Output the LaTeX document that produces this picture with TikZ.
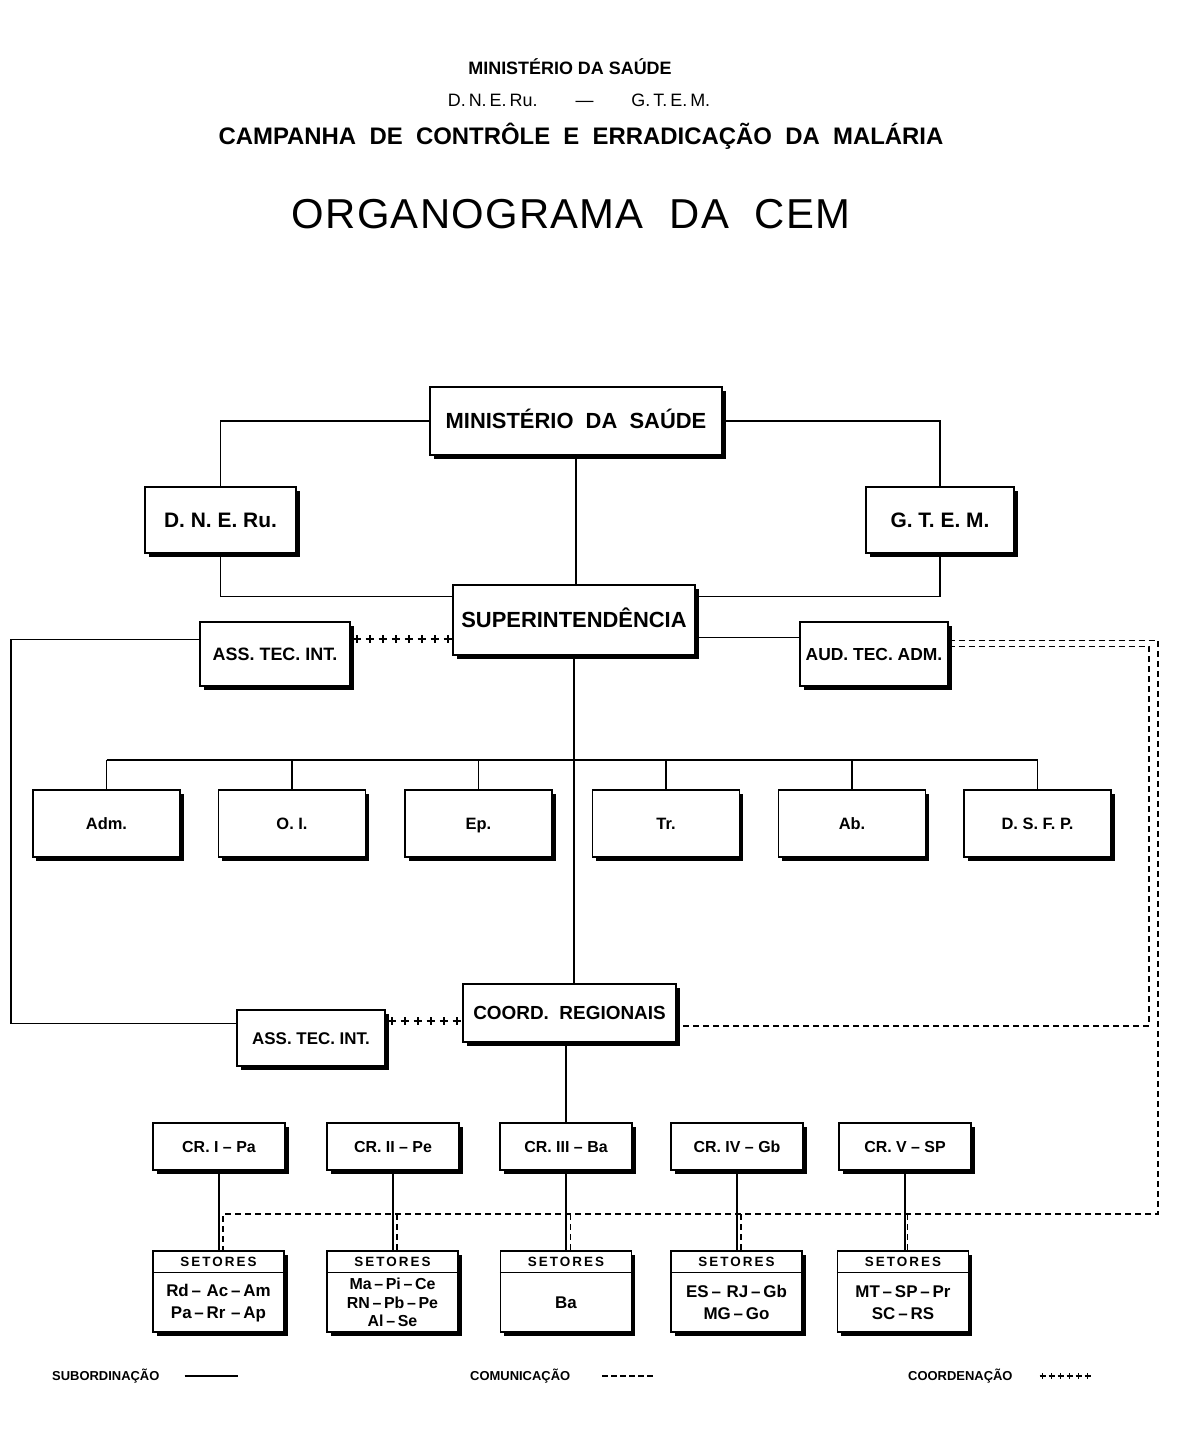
\documentclass[tikz,border=0pt]{standalone}
\usepackage{fontspec}
\setmainfont{Liberation Sans}
\newfontfamily\titlefont[LetterSpace=3]{Liberation Sans}
\newfontfamily\setfont[LetterSpace=15]{Liberation Sans}
\usetikzlibrary{shadows,decorations.markings,calc}
\begin{document}
\begin{tikzpicture}[x=1bp,y=-1bp,
  orgbox/.style={draw, line width=1.4bp, fill=white, inner sep=0pt,
    drop shadow={shadow xshift=3.5bp, shadow yshift=-4bp, fill=black, opacity=1}},
  fsz/.style={font=\bfseries\fontsize{#1}{#1}\selectfont, text height=0.716*#1bp, text depth=0pt},
  sub/.style={line width=1.4bp},
  comline/.style={line width=1.3bp, dash pattern=on 6bp off 4bp},
  plusline/.style={decoration={markings,
      mark=between positions 6bp and -2bp step 13bp with
      {\draw[line width=1.8bp] (-4,0)--(4,0) (0,-4)--(0,4);}}, decorate},
  plussmall/.style={decoration={markings,
      mark=between positions 3bp and -1bp step 9bp with
      {\draw[line width=1.5bp] (-3,0)--(3,0) (0,-3)--(0,3);}}, decorate},
  hdr/.style={anchor=base, inner sep=0pt},
  lgd/.style={anchor=west, inner sep=0pt, fsz=13},
  dept/.style={orgbox, minimum width=147bp, minimum height=67bp, fsz=16.5},
  crbox/.style={orgbox, minimum width=132bp, minimum height=47bp, fsz=16},
  setbox/.style={orgbox, minimum width=131bp, minimum height=81bp},
  sethead/.style={inner sep=0pt, font=\setfont\bfseries\fontsize{13.5}{15}\selectfont, text height=0.716*13.5bp, text depth=0pt},
  setbody/.style={inner sep=0pt, align=center, font=\bfseries\fontsize{17}{22}\selectfont},
]
\useasboundingbox (0,0) rectangle (1179,1445);
\fill[white] (0,0) rectangle (1179,1445);

% header
\node[hdr, font=\bfseries\fontsize{18}{20}\selectfont] (h1) at (570,75) {MINISTÉRIO DA SAÚDE};
\node[hdr, font=\fontsize{18}{20}\selectfont] (h2) at (579,107) {D.\,N.\,E.\,Ru.\hspace{38bp}—\hspace{38bp}G.\,T.\,E.\,M.};
\node[hdr, font=\bfseries\fontsize{24}{28}\selectfont] (h3) at (581,145) {CAMPANHA\ \ DE\ \ CONTRÔLE\ \ E\ \ ERRADICAÇÃO\ \ DA\ \ MALÁRIA};
\node[hdr, font=\titlefont\fontsize{42}{46}\selectfont] (h4) at (571,228) {ORGANOGRAMA\ \ DA\ \ CEM};

% boxes
\node[orgbox, minimum width=292bp, minimum height=68bp, fsz=22] (min) at (576,421) {MINISTÉRIO\ \ DA\ \ SAÚDE};
\node[orgbox, minimum width=151bp, minimum height=66bp, fsz=21] (dne) at (220.5,520) {D. N. E. Ru.};
\node[orgbox, minimum width=148bp, minimum height=66bp, fsz=21] (gtem) at (940,520) {G. T. E. M.};
\node[orgbox, minimum width=242bp, minimum height=70bp, fsz=22] (sup) at (574,620) {SUPERINTENDÊNCIA};
\node[orgbox, minimum width=150bp, minimum height=64bp, fsz=18] (ati) at (275,654) {ASS. TEC. INT.};
\node[orgbox, minimum width=148bp, minimum height=64bp, fsz=17.5] (aud) at (874,654) {AUD. TEC. ADM.};

\node[dept] (adm) at (106.5,823.5) {Adm.};
\node[dept] (oi) at (292,823.5) {O. I.};
\node[dept] (ep) at (478.5,823.5) {Ep.};
\node[dept] (tr) at (666,823.5) {Tr.};
\node[dept] (ab) at (852,823.5) {Ab.};
\node[dept] (dsfp) at (1037.5,823.5) {D. S. F. P.};

\node[orgbox, minimum width=213bp, minimum height=58bp, fsz=19] (coord) at (569.5,1013) {COORD.\ \ REGIONAIS};
\node[orgbox, minimum width=148bp, minimum height=56bp, fsz=17] (ati2) at (311,1038) {ASS. TEC. INT.};

\node[crbox] (cr1) at (219,1146.5) {CR. I – Pa};
\node[crbox] (cr2) at (393,1146.5) {CR. II – Pe};
\node[crbox] (cr3) at (566,1146.5) {CR. III – Ba};
\node[crbox] (cr4) at (737,1146.5) {CR. IV – Gb};
\node[crbox] (cr5) at (905,1146.5) {CR. V – SP};

\foreach \n/\x in {s1/218.5, s2/392.5, s3/566, s4/736.5, s5/903}{
  \node[setbox] (\n) at (\x,1291.5) {};
  \draw[line width=1.3bp] ([yshift=-22bp]\n.north west) -- ([yshift=-22bp]\n.north east);
  \node[sethead] (\n h) at ([yshift=-11bp]\n.north) {SETORES};
}
\node[setbody] (s1b) at ([yshift=30bp]s1.south) {Rd\,–\,\,Ac\,–\,Am\\Pa\,–\,Rr\,\,–\,Ap};
\node[setbody, font=\bfseries\fontsize{16}{18.5}\selectfont] (s2b) at ([yshift=30bp]s2.south) {Ma\,–\,Pi\,–\,Ce\\RN\,–\,Pb\,–\,Pe\\Al\,–\,Se};
\node[setbody] (s3b) at ([yshift=30bp]s3.south) {Ba};
\node[setbody] (s4b) at ([yshift=30bp]s4.south) {ES\,–\,\,RJ\,–\,Gb\\MG\,–\,Go};
\node[setbody] (s5b) at ([yshift=30bp]s5.south) {MT\,–\,SP\,–\,Pr\\SC\,–\,RS};

% subordination lines
\draw[sub] (min.west) -| (dne.north);
\draw[sub] (min.east) -| (gtem.north);
\draw[sub] (min.south) -- (min.south |- sup.north);
\draw[sub] (dne.south) |- ([yshift=-12bp]sup.north west);
\draw[sub] (gtem.south) |- ([yshift=-12bp]sup.north east);
\draw[sub] ([yshift=-53bp]sup.north east) -- ([yshift=-53bp]sup.north east -| aud.west);
\coordinate (lc) at (11,800);
\draw[sub] ([yshift=-18bp]ati.north west) -| (lc) |- ([yshift=-14bp]ati2.north west);
\draw[sub] (sup.south) -- (sup.south |- coord.north);
\coordinate (bus) at (574,760);
\draw[sub] (adm.north |- bus) -- (dsfp.north |- bus);
\foreach \d in {adm,oi,ep,tr,ab,dsfp}{\draw[sub] (\d.north |- bus) -- (\d.north);}
\draw[sub] (coord.south -| cr3.north) -- (cr3.north);
\foreach \i in {1,...,5}{\draw[line width=1.2bp] (cr\i.south) -- (cr\i.south |- s\i.north);}

% coordination lines
\path[plusline] ([yshift=-18bp]ati.north east) -- ([yshift=-18bp]ati.north east -| sup.west);
\path[plusline] ([yshift=-12bp]ati2.north east) -- ([yshift=-12bp]ati2.north east -| coord.west);

% communication lines
\coordinate (outc) at (1158,1214);
\coordinate (innc) at (1149,1026);
\draw[comline] ([yshift=-19bp]aud.north east) -| (outc) -- ([xshift=4.5bp]s1.north |- outc) -- ([xshift=4.5bp]s1.north);
\foreach \i in {2,...,5}{\draw[comline] ([xshift=4.5bp]s\i.north |- outc) -- ([xshift=4.5bp]s\i.north);}
\draw[comline] ([yshift=-25bp]aud.north east) -| (innc) -- (innc -| coord.east);

% legend
\node[lgd] (lg1) at (52,1376) {SUBORDINAÇÃO};
\draw[sub] ([xshift=25bp]lg1.east) -- ++(53,0);
\node[lgd] (lg2) at (470,1376) {COMUNICAÇÃO};
\draw[line width=1.3bp, dash pattern=on 6bp off 3bp] ([xshift=32bp]lg2.east) -- ++(52,0);
\node[lgd] (lg3) at (908,1376) {COORDENAÇÃO};
\path[plussmall] ([xshift=27bp]lg3.east) -- ++(51,0);
\end{tikzpicture}
\end{document}
